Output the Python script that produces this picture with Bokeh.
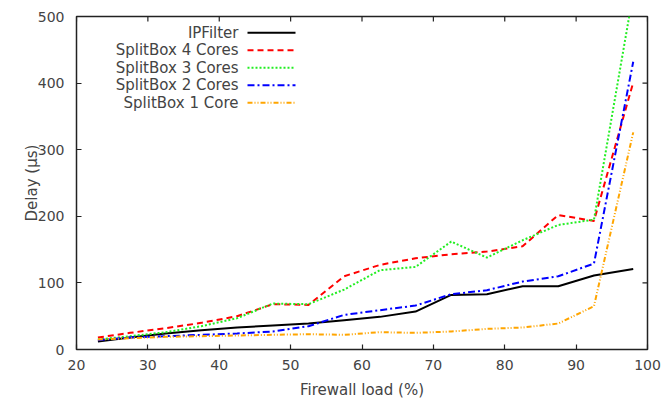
from bokeh.plotting import figure
from bokeh.models import Label, Arrow, FixedTicker, Range1d
from bokeh.embed import file_html
from bokeh.resources import INLINE

load = [23, 27.5, 32.5, 37.5, 42.5, 47.5, 52.5, 57.5, 62.5, 67.5, 72.5, 77.5, 82.5, 87.5, 92.5, 98]
ipfilter = [12, 18, 24, 29, 33, 36, 39, 44, 49, 57, 82, 83, 95, 95, 111, 121]
sb4 = [18, 25, 32, 40, 50, 68, 67, 110, 127, 137, 143, 147, 155, 202, 193, 401]
sb3 = [15, 20, 26, 35, 47, 69, 68, 90, 119, 124, 162, 138, 164, 187, 195, 535]
sb2 = [14, 18, 20, 22, 24, 27, 35, 52, 59, 66, 83, 89, 102, 110, 129, 432]
sb1 = [15, 17, 19, 20, 21, 22, 23, 22, 26, 25, 27, 31, 33, 39, 65, 326]

labels = ["IPFilter", "SplitBox 4 Cores", "SplitBox 3 Cores", "SplitBox 2 Cores", "SplitBox 1 Core"]
series = [ipfilter, sb4, sb3, sb2, sb1]
colors = ["#000000", "#ff0000", "#22ee22", "#0000ff", "#ffa500"]
dashes = ["solid", "6 4", "2 2", "7 3 2 3", "5 2 1 2 1 2"]

x_ticks = [20, 30, 40, 50, 60, 70, 80, 90, 100]
y_ticks = [0, 100, 200, 300, 400, 500]
X0, X1, Y0, Y1 = 20, 100, 0, 500

FONT = "DejaVu Sans"
TXT = "#444444"
W, H = 672, 401
BL, BR, BT, BB = 76, 25, 16, 52
fw, fh = W - BL - BR, H - BT - BB

p = figure(width=W, height=H, output_backend="svg", toolbar_location=None,
           x_range=Range1d(X0, X1), y_range=Range1d(Y0, Y1),
           min_border_left=BL, min_border_right=BR, min_border_top=BT, min_border_bottom=BB,
           x_axis_label="Firewall load (%)", y_axis_label="Delay (µs)")
p.grid.visible = False
p.outline_line_color = "#222222"
p.outline_line_width = 1.5
p.background_fill_color = "white"
p.border_fill_color = "white"

for ax in (p.xaxis[0], p.yaxis[0]):
    ax.axis_line_color = None
    ax.major_tick_in = 5
    ax.major_tick_out = 0
    ax.minor_tick_line_color = None
    ax.major_tick_line_color = "#222222"
    ax.major_tick_line_width = 1.2
    ax.major_label_text_font = FONT
    ax.major_label_text_font_size = "14px"
    ax.major_label_text_color = TXT
    ax.axis_label_text_font = FONT
    ax.axis_label_text_font_size = "15px"
    ax.axis_label_text_font_style = "normal"
    ax.axis_label_text_color = TXT
p.xaxis[0].ticker = FixedTicker(ticks=x_ticks)
p.yaxis[0].ticker = FixedTicker(ticks=y_ticks)
p.xaxis[0].major_label_standoff = 10
p.yaxis[0].major_label_standoff = 12
p.xaxis[0].axis_label_standoff = 8
p.yaxis[0].axis_label_standoff = -6

# mirrored inward ticks on the top and right frame edges
tick_len_y = 5 * (Y1 - Y0) / fh
tick_len_x = 5 * (X1 - X0) / fw
p.segment(x0=x_ticks, y0=[Y1] * len(x_ticks), x1=x_ticks, y1=[Y1 - tick_len_y] * len(x_ticks),
          line_color="#222222", line_width=1.2)
p.segment(x0=[X1] * len(y_ticks), y0=y_ticks, x1=[X1 - tick_len_x] * len(y_ticks), y1=y_ticks,
          line_color="#222222", line_width=1.2)

for ys, c, d in zip(series, colors, dashes):
    p.line(load, ys, line_color=c, line_width=2, line_dash=d)

# gnuplot-style key: right-aligned text followed by a line sample (screen units from frame origin)
text_right = 238 - BL
sample_x0, sample_x1 = 247 - BL, 295 - BL
row0, row_step = 32.3, 17.5
for i, (lab, c, d) in enumerate(zip(labels, colors, dashes)):
    yy = (H - BB) - (row0 + i * row_step)
    p.add_layout(Label(x=text_right, y=yy, x_units="screen", y_units="screen", text=lab,
                       text_align="right", text_baseline="middle", text_font=FONT,
                       text_font_size="15px", text_color=TXT))
    p.add_layout(Arrow(x_start=sample_x0, y_start=yy, x_end=sample_x1, y_end=yy,
                       start_units="screen", end_units="screen", end=None,
                       line_color=c, line_width=2, line_dash=d))

open("out.html", "w").write(file_html(p, INLINE))
